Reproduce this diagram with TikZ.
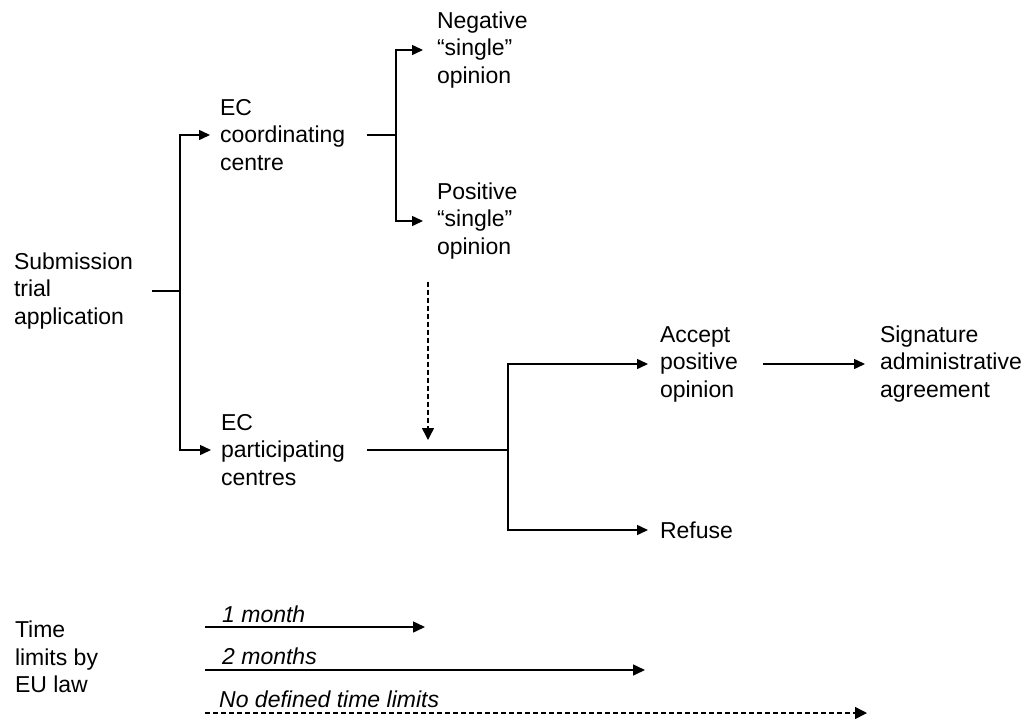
\documentclass[tikz,border=0pt]{standalone}
\usepackage{fontspec}
\setmainfont{Liberation Sans}
\usetikzlibrary{arrows.meta}
\begin{document}
\begin{tikzpicture}[x=1pt,y=-1pt,
  txt/.style={font=\fontsize{23pt}{27.5pt}\selectfont, align=left, anchor=west, inner sep=0pt, outer sep=0pt},
  lbl/.style={font=\fontsize{23pt}{27.5pt}\selectfont\itshape, anchor=base west, inner sep=0pt},
  ln/.style={draw, line width=1.5pt},
  arr/.style={ln, -{Triangle[length=11pt,width=10pt]}},
  tarr/.style={ln, -{Triangle[length=12pt,width=11pt]}},
  darr/.style={ln, dash pattern=on 5pt off 3pt, -{Triangle[length=12pt,width=12pt]}}]
\useasboundingbox (0,0) rectangle (1024,718);
% nodes
\node[txt] (sub)   at (14,291)  {Submission\\trial\\application};
\node[txt] (coord) at (220,135) {EC\\coordinating\\centre};
\node[txt] (part)  at (221,450) {EC\\participating\\centres};
\node[txt] (neg)   at (437,50)  {Negative\\“single”\\opinion};
\node[txt] (pos)   at (437,221) {Positive\\“single”\\opinion};
\node[txt] (acc)   at (660,364) {Accept\\positive\\opinion};
\node[txt] (sig)   at (880,364) {Signature\\administrative\\agreement};
\node[txt] (ref)   at (660,530) {Refuse};
\node[txt] (time)  at (15,657)  {Time\\limits by\\EU law};
% junctions
\coordinate (j1x) at (180,0);
\coordinate (j1) at (j1x |- sub.west);
\coordinate (j2x) at (396,0);
\coordinate (j2) at (j2x |- coord.west);
\coordinate (j3x) at (508,0);
\coordinate (j3) at (j3x |- part.west);
% connectors
\draw[ln] ([xshift=19pt]sub.east) -- (j1);
\draw[arr] (j1) |- ([xshift=-10pt]coord.west);
\draw[arr] (j1) |- ([xshift=-10pt]part.west);
\draw[ln] ([xshift=22pt]coord.east) -- (j2);
\draw[arr] (j2) |- ([xshift=-14pt]neg.west);
\draw[arr] (j2) |- ([xshift=-14pt]pos.west);
\draw[ln] ([xshift=22pt]part.east) -- (j3);
\draw[arr] (j3) |- ([xshift=-12pt]acc.west);
\draw[arr] (j3) |- ([xshift=-12pt]ref.west);
\draw[arr] ([xshift=25pt]acc.east) -- ([xshift=-15pt]sig.west);
% dashed influence
\coordinate (d1) at (428,282);
\coordinate (d2) at (428,440);
\draw[darr] (d1) -- (d2);
% time limits
\coordinate (t1s) at (205,627); \coordinate (t1e) at (425,627);
\coordinate (t2s) at (205,670); \coordinate (t2e) at (645,670);
\coordinate (t3s) at (205,713); \coordinate (t3e) at (867,713);
\draw[tarr] (t1s) -- (t1e);
\draw[tarr] (t2s) -- (t2e);
\draw[darr] (t3s) -- (t3e);
\node[lbl] (l1) at (222,622) {1 month};
\node[lbl] (l2) at (222,664) {2 months};
\node[lbl] (l3) at (219,707) {No defined time limits};
\end{tikzpicture}
\end{document}
